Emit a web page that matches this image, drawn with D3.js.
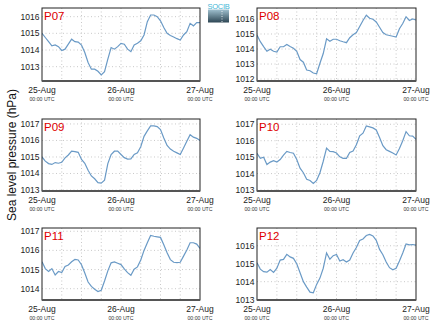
<!DOCTYPE html>
<html><head><meta charset="utf-8">
<script src="https://cdn.jsdelivr.net/npm/d3@7"></script>
<style>body{margin:0;background:#fff}svg{display:block;font-family:"Liberation Sans",Arial,sans-serif}</style>
</head><body><svg id="c" width="434" height="327"></svg>
<script>
const stations = ["P07","P08","P09","P10","P11","P12"];
const dayLabels = ["25-Aug","26-Aug","27-Aug"];
const timeLabel = "00:00 UTC";
const yTitle = "Sea level pressure (hPa)";
const logoText = "SOCIB";
const startTime = new Date(Date.UTC(2014,7,25,0,0));
const hoursSpan = 48;

// hourly sea level pressure (hPa)
const p07 = [1015.0,1014.75,1014.5,1014.25,1014.3,1014.2,1013.97,1014.05,1014.35,1014.65,1014.5,1014.47,1014.3,1013.85,1013.25,1012.85,1012.85,1012.72,1012.5,1012.7,1013.45,1014.15,1014.05,1014.2,1014.4,1014.35,1014.05,1013.9,1014.3,1014.4,1014.55,1014.9,1015.7,1016.1,1016.1,1016.0,1015.75,1015.35,1015.0,1014.87,1014.78,1014.68,1014.6,1014.9,1015.1,1015.6,1015.45,1015.65,1015.64];
const p08 = [1014.93,1014.49,1014.16,1013.85,1013.98,1013.85,1013.8,1014.15,1014.15,1014.3,1014.17,1014.05,1013.85,1013.3,1013.12,1012.6,1012.55,1012.4,1012.35,1013.05,1013.7,1014.68,1014.52,1014.65,1014.65,1014.55,1014.48,1014.42,1014.75,1014.95,1015.1,1015.5,1015.9,1016.25,1016.05,1015.98,1015.8,1015.45,1015.1,1014.95,1014.9,1014.85,1014.8,1015.35,1015.7,1016.15,1015.9,1016.0,1015.93];
const p09 = [1015.0,1014.75,1014.6,1014.55,1014.66,1014.62,1014.68,1014.95,1015.12,1015.36,1015.32,1015.28,1014.85,1014.62,1014.2,1013.85,1013.68,1013.45,1013.42,1013.6,1014.6,1015.15,1015.35,1015.36,1015.15,1014.96,1014.87,1014.88,1015.15,1015.25,1015.62,1016.25,1016.58,1016.88,1016.88,1016.84,1016.66,1016.15,1015.7,1015.48,1015.35,1015.25,1015.15,1015.55,1015.95,1016.35,1016.2,1016.13,1016.0];
const p10 = [1015.23,1014.93,1015.0,1014.55,1014.7,1014.78,1014.7,1014.85,1015.12,1015.35,1015.28,1015.24,1014.86,1014.33,1014.05,1013.65,1013.58,1013.4,1013.58,1014.05,1014.75,1015.55,1015.35,1015.33,1015.25,1015.02,1014.93,1014.93,1015.28,1015.37,1015.75,1016.3,1016.46,1016.9,1016.84,1016.78,1016.65,1016.2,1015.7,1015.45,1015.35,1015.25,1015.13,1015.52,1016.0,1016.55,1016.3,1016.28,1016.09];
const p11 = [1015.41,1015.05,1014.9,1015.05,1014.72,1014.9,1014.84,1015.16,1015.24,1015.41,1015.53,1015.5,1015.25,1014.82,1014.35,1014.12,1013.97,1013.85,1013.92,1014.4,1014.93,1015.35,1015.4,1015.33,1015.26,1015.03,1014.84,1014.7,1015.02,1015.14,1015.5,1016.0,1016.4,1016.78,1016.74,1016.71,1016.68,1016.3,1015.88,1015.52,1015.38,1015.36,1015.38,1015.7,1016.02,1016.4,1016.4,1016.33,1016.1];
const p12 = [1015.06,1014.7,1014.56,1014.53,1014.68,1014.52,1014.75,1015.2,1015.24,1015.52,1015.38,1015.3,1015.0,1014.5,1014.0,1013.7,1013.42,1013.38,1013.85,1014.2,1014.75,1015.6,1015.25,1015.45,1015.52,1015.15,1015.22,1015.1,1015.21,1015.6,1015.9,1016.3,1016.38,1016.57,1016.63,1016.55,1016.3,1015.8,1015.5,1015.1,1014.78,1014.66,1014.75,1015.15,1015.6,1016.1,1016.05,1016.07,1016.04];
const series = [p07,p08,p09,p10,p11,p12];

const yDomains = [[1012.14,1016.52],[1011.87,1016.73],[1012.94,1017.30],[1012.94,1017.32],[1013.41,1017.17],[1012.98,1016.99]];
const yTicks = [[1013,1014,1015,1016],[1012,1013,1014,1015,1016],[1013,1014,1015,1016,1017],[1013,1014,1015,1016,1017],[1014,1015,1016,1017],[1013,1014,1015,1016]];

const colX = [[42,200],[257,416]];
const rowY = [[8,81],[119,191],[228,300]];

const svg = d3.select("#c");
const defs = svg.append("defs");
const endTime = d3.utcHour.offset(startTime, hoursSpan);

stations.forEach((name, i) => {
  const [x0,x1] = colX[i % 2];
  const [y0,y1] = rowY[Math.floor(i / 2)];
  const x = d3.scaleUtc().domain([startTime, endTime]).range([x0, x1]);
  const y = d3.scaleLinear().domain(yDomains[i]).range([y1, y0]);
  const g = svg.append("g");

  defs.append("clipPath").attr("id", "clip" + i)
    .append("rect").attr("x", x0).attr("y", y0).attr("width", x1 - x0).attr("height", y1 - y0);

  // grid
  const vt = d3.utcHour.every(6).range(d3.utcHour.offset(startTime, 1), endTime);
  g.selectAll(".vg").data(vt).join("line")
    .attr("x1", d => x(d)).attr("x2", d => x(d)).attr("y1", y0).attr("y2", y1)
    .attr("stroke", "#bbb").attr("stroke-width", 0.8).attr("stroke-dasharray", "1,2.5");
  g.selectAll(".hg").data(yTicks[i]).join("line")
    .attr("x1", x0).attr("x2", x1).attr("y1", d => y(d)).attr("y2", d => y(d))
    .attr("stroke", "#bbb").attr("stroke-width", 0.8).attr("stroke-dasharray", "1,2.5");

  // line
  const line = d3.line().x((d, k) => x(d3.utcHour.offset(startTime, k))).y(d => y(d));
  g.append("path").datum(series[i]).attr("d", line)
    .attr("fill", "none").attr("stroke", "#6a9ac6").attr("stroke-width", 1.2)
    .attr("clip-path", "url(#clip" + i + ")");

  // frame
  g.append("rect").attr("x", x0).attr("y", y0).attr("width", x1 - x0).attr("height", y1 - y0)
    .attr("fill", "none").attr("stroke", "#222").attr("stroke-width", 1);
  g.append("line").attr("x1", x0).attr("x2", x1).attr("y1", y1).attr("y2", y1)
    .attr("stroke", "#555").attr("stroke-width", 2);

  // y ticks
  g.selectAll(".yt").data(yTicks[i]).join("text")
    .attr("x", x0 - 2.5).attr("y", d => y(d)).attr("dy", "0.35em")
    .attr("text-anchor", "end").attr("font-size", "8.5px").attr("fill", "#222")
    .text(d => d);

  // x ticks
  const days = d3.utcDay.range(startTime, d3.utcHour.offset(endTime, 1));
  g.selectAll(".xd").data(days).join("text")
    .attr("x", d => x(d)).attr("y", y1 + 11.5).attr("text-anchor", "middle")
    .attr("font-size", "8.5px").attr("fill", "#222")
    .text((d, k) => dayLabels[k]);
  g.selectAll(".xt").data(days).join("text")
    .attr("x", d => x(d)).attr("y", y1 + 19.8).attr("text-anchor", "middle")
    .attr("font-size", "5.2px").attr("fill", "#333")
    .text(timeLabel);

  // station label
  g.append("text").attr("x", x0 + 2).attr("y", y0 + 11.5)
    .attr("font-size", "11.5px").attr("fill", "#e00000").text(name);
});

// y title
svg.append("text").attr("transform", "translate(16,155) rotate(-90)")
  .attr("text-anchor", "middle").attr("font-size", "12px").attr("fill", "#111")
  .text(yTitle);

// logo
const grad = defs.append("linearGradient").attr("id", "lg").attr("x1", 0).attr("x2", 0).attr("y1", 0).attr("y2", 1);
grad.append("stop").attr("offset", "0%").attr("stop-color", "#9fc0cf");
grad.append("stop").attr("offset", "100%").attr("stop-color", "#2d4654");
svg.append("rect").attr("x", 208).attr("y", 9.5).attr("width", 21).attr("height", 13).attr("fill", "url(#lg)");
svg.append("line").attr("x1", 222).attr("x2", 222).attr("y1", 11).attr("y2", 22)
  .attr("stroke", "#fff").attr("stroke-width", 0.8).attr("stroke-dasharray", "1,1.5");
svg.append("text").attr("x", 218.5).attr("y", 8.5).attr("text-anchor", "middle")
  .attr("font-size", "7.5px").attr("fill", "#3fb6d6").attr("letter-spacing", "-0.3px")
  .text(logoText);
</script></body></html>
